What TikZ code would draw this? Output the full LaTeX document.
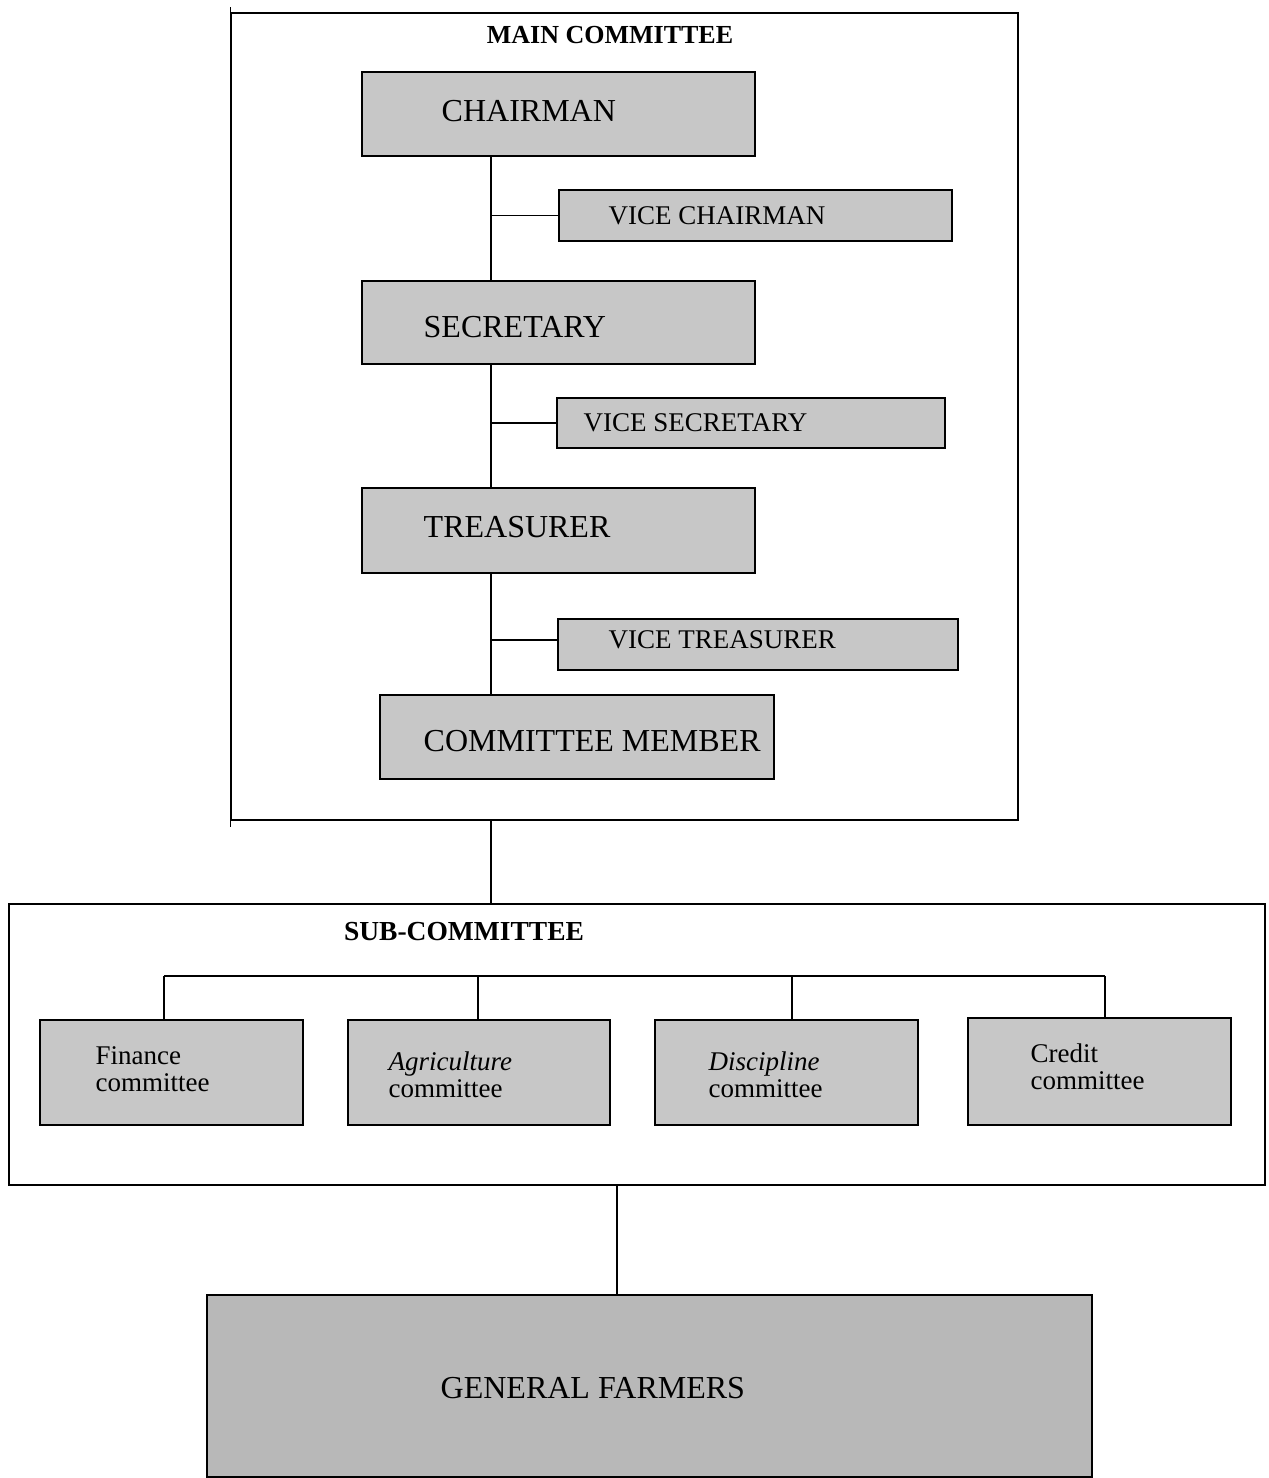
\documentclass[tikz,border=0pt]{standalone}
\usepackage{fontspec}
\setmainfont{Liberation Serif}
\usepackage{tikz}
\begin{document}
\begin{tikzpicture}[x=1pt,y=-1pt,line width=1.4pt]
	\tikzstyle{frame}=[draw=black,rectangle,inner sep=0pt]
	\tikzstyle{post}=[draw=black,fill=black!22,rectangle,inner sep=0pt]
	\tikzstyle{big}=[inner sep=0pt,anchor=west,font=\fontsize{32}{36}\selectfont]
	\tikzstyle{small}=[inner sep=0pt,anchor=west,font=\fontsize{27}{30}\selectfont]
	\tikzstyle{sub}=[inner sep=0pt,anchor=west,align=left,font=\fontsize{27}{27}\selectfont]
	\useasboundingbox (0,0) rectangle (1269,1478);
	% main committee
	\node[frame,minimum width=787pt,minimum height=807pt](mc) at (624.5,416.5) {};
	\draw ([yshift=5pt]mc.north west) -- ([yshift=-6pt]mc.south west);
	\node[inner sep=0pt,font=\fontsize{26}{30}\selectfont\bfseries](tmc) at (610,35) {MAIN COMMITTEE};
	\node[post,minimum width=393pt,minimum height=84pt](chair) at (558.5,114) {};
	\node[big](tchair) at (441,111) {CHAIRMAN};
	\node[post,minimum width=393pt,minimum height=51pt](vchair) at (755.5,215.5) {};
	\node[small](tvchair) at (608,216) {VICE CHAIRMAN};
	\node[post,minimum width=393pt,minimum height=83pt](sec) at (558.5,322.5) {};
	\node[big](tsec) at (423,327) {SECRETARY};
	\node[post,minimum width=388pt,minimum height=50pt](vsec) at (751,423) {};
	\node[small](tvsec) at (583,423) {VICE SECRETARY};
	\node[post,minimum width=393pt,minimum height=85pt](tre) at (558.5,530.5) {};
	\node[big](ttre) at (423,527) {TREASURER};
	\node[post,minimum width=400pt,minimum height=51pt](vtre) at (758,644.5) {};
	\node[small](tvtre) at (608,640) {VICE TREASURER};
	\node[post,minimum width=394pt,minimum height=84pt](mem) at (577,737) {};
	\node[big](tmem) at (423,741) {COMMITTEE MEMBER};
	\coordinate (sp) at (491,0);
	\draw (chair.south -| sp) -- (sec.north -| sp);
	\draw (sec.south -| sp) -- (tre.north -| sp);
	\draw (tre.south -| sp) -- (mem.north -| sp);
	\draw (sp |- vchair.west) -- (vchair.west);
	\draw (sp |- vsec.west) -- (vsec.west);
	\draw (sp |- 0,640) -- (vtre.west |- 0,640);
	% sub-committee
	\node[frame,minimum width=1256pt,minimum height=281pt](sc) at (637,1044.5) {};
	\node[inner sep=0pt,font=\fontsize{27.5}{30}\selectfont\bfseries](tsc) at (464,932) {SUB-COMMITTEE};
	\draw (mc.south -| sp) -- (sc.north -| sp);
	\node[post,minimum width=263pt,minimum height=105pt](fin) at (171.5,1072.5) {};
	\node[sub](tfin) at (95,1069) {Finance\\committee};
	\node[post,minimum width=262pt,minimum height=105pt](agr) at (479,1072.5) {};
	\node[sub](tagr) at (388,1075) {\textit{Agriculture}\\committee};
	\node[post,minimum width=263pt,minimum height=105pt](dis) at (786.5,1072.5) {};
	\node[sub](tdis) at (708,1075) {\textit{Discipline}\\committee};
	\node[post,minimum width=263pt,minimum height=107pt](cre) at (1099.5,1071.5) {};
	\node[sub](tcre) at (1030,1067) {Credit\\committee};
	\coordinate (b1) at (164,976);
	\coordinate (b2) at (478,976);
	\coordinate (b3) at (792,976);
	\coordinate (b4) at (1105,976);
	\draw (b1) -- (b4);
	\draw (b1) -- (b1 |- fin.north);
	\draw (b2) -- (b2 |- agr.north);
	\draw (b3) -- (b3 |- dis.north);
	\draw (b4) -- (b4 |- cre.north);
	% farmers
	\node[post,fill=black!28,minimum width=885pt,minimum height=182pt](farm) at (649.5,1386) {};
	\node[big](tfarm) at (440,1388) {GENERAL FARMERS};
	\coordinate (fp) at (617,0);
	\draw (sc.south -| fp) -- (farm.north -| fp);
\end{tikzpicture}
\end{document}
